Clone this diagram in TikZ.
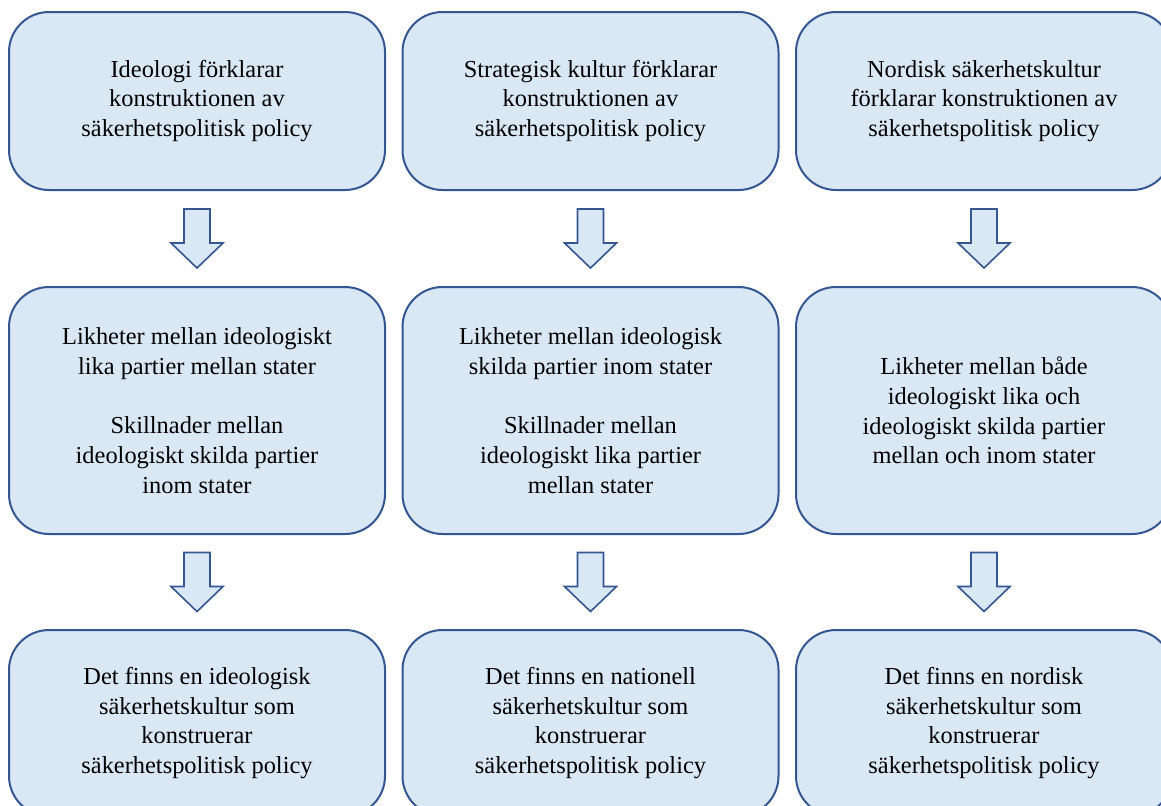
\documentclass[tikz,border=0pt]{standalone}
\usepackage{fontspec}
\setmainfont{Liberation Serif}
\usetikzlibrary{calc}
\definecolor{boxfill}{RGB}{218,232,246}
\definecolor{boxline}{RGB}{52,86,145}
\newcommand{\blockdown}[2]{%
  \draw[hollow] ($(#1.south)!0.5!(#2.north)+(-13,-29.5)$) -- ++(26,0) -- ++(0,34)
    -- ++(13,0) -- ++(-26,25) -- ++(-26,-25) -- ++(13,0) -- cycle;}
\begin{document}
\begin{tikzpicture}[x=0.5pt,y=-0.5pt,
    box/.style={
% The shape:
rectangle, rounded corners=20pt,
% The size:
minimum width=188pt, inner sep=0pt,
% The border:
line width=1pt, draw=boxline, fill=boxfill,
% The text:
align=center, font=\fontsize{12.2}{14.9}\selectfont,
},
    hollow/.style={
% The border:
line width=0.8pt, draw=boxline, fill=boxfill,
},
]
  \clip (0,0) rectangle (1161,805);
  % top row
  \node[box,minimum height=89pt]    (ideo) at (197, 101)
    {Ideologi förklarar\\konstruktionen av\\säkerhetspolitisk policy};
  \node[box,minimum height=89pt]    (strat) at (590.5, 101)
    {Strategisk kultur förklarar\\konstruktionen av\\säkerhetspolitisk policy};
  \node[box,minimum height=89pt]    (nord) at (984, 101)
    {Nordisk säkerhetskultur\\förklarar konstruktionen av\\säkerhetspolitisk policy};
  % middle row
  \node[box,minimum height=123.5pt] (ideolik) at (197, 410.5)
    {Likheter mellan ideologiskt\\lika partier mellan stater\\[14.9pt]
     Skillnader mellan\\ideologiskt skilda partier\\inom stater};
  \node[box,minimum height=123.5pt] (stratlik) at (590.5, 410.5)
    {Likheter mellan ideologisk\\skilda partier inom stater\\[14.9pt]
     Skillnader mellan\\ideologiskt lika partier\\mellan stater};
  \node[box,minimum height=123.5pt] (nordlik) at (984, 410.5)
    {Likheter mellan både\\ideologiskt lika och\\ideologiskt skilda partier\\mellan och inom stater};
  % bottom row
  \node[box,minimum height=93pt]    (ideokult) at (197, 723)
    {Det finns en ideologisk\\säkerhetskultur som\\konstruerar\\säkerhetspolitisk policy};
  \node[box,minimum height=93pt]    (natkult) at (590.5, 723)
    {Det finns en nationell\\säkerhetskultur som\\konstruerar\\säkerhetspolitisk policy};
  \node[box,minimum height=93pt]    (nordkult) at (984, 723)
    {Det finns en nordisk\\säkerhetskultur som\\konstruerar\\säkerhetspolitisk policy};

  \blockdown{ideo}{ideolik}
  \blockdown{strat}{stratlik}
  \blockdown{nord}{nordlik}
  \blockdown{ideolik}{ideokult}
  \blockdown{stratlik}{natkult}
  \blockdown{nordlik}{nordkult}

\end{tikzpicture}
\end{document}
